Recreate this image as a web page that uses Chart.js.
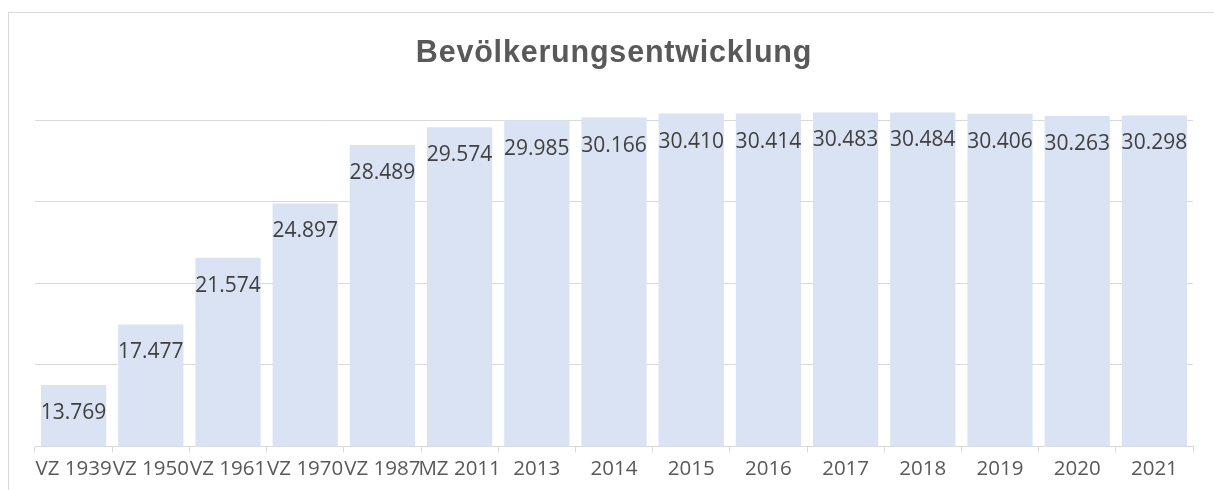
<!DOCTYPE html>
<html>
<head>
<meta charset="utf-8">
<script src="https://cdn.jsdelivr.net/npm/chart.js@4/dist/chart.umd.min.js"></script>
<style>
  html, body { margin: 0; padding: 0; background: #fff; overflow: hidden; }
  #frame { position: absolute; left: 8px; top: 12px; width: 1240px; height: 520px; border: 1px solid #d9d9d9; }
  #chart { position: absolute; left: 0; top: 0; }
</style>
</head>
<body>
<div id="frame"></div>
<canvas id="chart" width="1214" height="490"></canvas>
<script>
// Bevölkerung je Zählung / Jahr
const titleText = 'Bevölkerungsentwicklung';
const categories = ['VZ 1939', 'VZ 1950', 'VZ 1961', 'VZ 1970', 'VZ 1987', 'MZ 2011',
    '2013', '2014', '2015', '2016', '2017', '2018', '2019', '2020', '2021'];
const population = [13769, 17477, 21574, 24897, 28489, 29574,
    29985, 30166, 30410, 30414, 30483, 30484, 30406, 30263, 30298];
const yTicks = [10000, 15000, 20000, 25000, 30000];

const labelFont = '"Open Sans", sans-serif';

// Zahl mit Tausenderpunkt
function formatDe(v) {
    return String(v).replace(/\B(?=(\d{3})+(?!\d))/g, '.');
}

// Titel mit etwas Zeichenabstand (wie im Original)
const chartTitle = {
    id: 'chartTitle',
    afterDraw(chart) {
        const ctx = chart.ctx;
        ctx.save();
        ctx.font = 'bold 30.5px "Liberation Sans", Arial, sans-serif';
        ctx.letterSpacing = '0.8px';
        ctx.fillStyle = '#595959';
        ctx.textAlign = 'center';
        ctx.textBaseline = 'alphabetic';
        ctx.fillText(titleText, 614, 62);
        ctx.restore();
    }
};

// Beschriftung innen, knapp unter dem Balkenende
const barLabels = {
    id: 'barLabels',
    afterDatasetsDraw(chart) {
        const ctx = chart.ctx;
        const meta = chart.getDatasetMeta(0);
        ctx.save();
        ctx.font = '21px ' + labelFont;
        ctx.fillStyle = '#404040';
        ctx.textAlign = 'center';
        ctx.textBaseline = 'middle';
        meta.data.forEach((bar, i) => {
            ctx.fillText(formatDe(population[i]), bar.x, bar.y + 28);
        });
        ctx.restore();
    }
};

new Chart(document.getElementById('chart'), {
    type: 'bar',
    data: {
        labels: categories,
        datasets: [{
            data: population,
            backgroundColor: '#dae3f3',
            borderWidth: 0,
            categoryPercentage: 0.845,
            barPercentage: 1
        }]
    },
    options: {
        responsive: false,
        animation: false,
        layout: { padding: { left: 35, right: 21, top: 104, bottom: 5 } },
        plugins: {
            legend: { display: false },
            tooltip: { enabled: false },
            title: { display: false }
        },
        scales: {
            x: {
                grid: {
                    offset: true,
                    drawOnChartArea: false,
                    drawTicks: true,
                    tickLength: 6,
                    color: '#d9d9d9'
                },
                border: { color: '#d9d9d9', width: 1 },
                ticks: {
                    autoSkip: false,
                    maxRotation: 0,
                    minRotation: 0,
                    padding: 4,
                    color: '#595959',
                    font: { family: labelFont, size: 20.5 }
                }
            },
            y: {
                min: 10000,
                max: 31000,
                afterBuildTicks(scale) {
                    scale.ticks = yTicks.map(v => ({ value: v }));
                },
                border: { display: false },
                grid: {
                    drawTicks: false,
                    color: '#d9d9d9',
                    lineWidth: 1
                },
                ticks: { display: false }
            }
        }
    },
    plugins: [barLabels, chartTitle]
});
</script>
</body>
</html>
